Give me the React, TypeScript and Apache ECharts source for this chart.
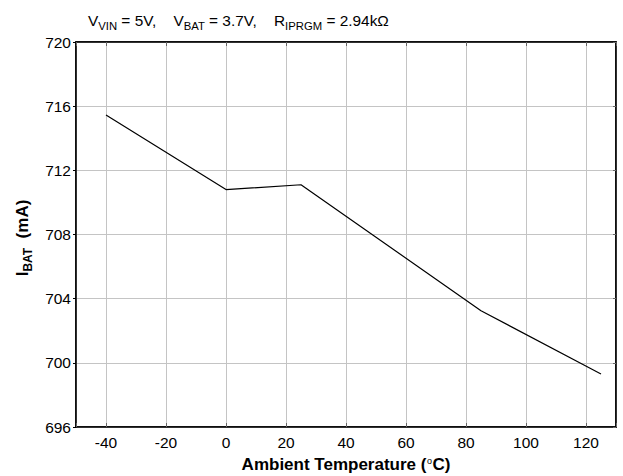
import React, { useEffect, useRef } from 'react';
import * as echarts from 'echarts';

// Data
const temperatureC = [-40, 0, 25, 85, 125];
const chargeCurrentMA = [715.45, 710.8, 711.1, 703.25, 699.3];
const xRange = [-50, 130];
const xLabelStep = 20;
const yRange = [696, 720];
const yStep = 4;

// Text pieces (main text and sub/superscripts)
const titleParts = [
  { t: 'V', sub: false },
  { t: 'VIN', sub: true },
  { t: ' = 5V,    V', sub: false },
  { t: 'BAT', sub: true },
  { t: ' = 3.7V,    R', sub: false },
  { t: 'IPRGM', sub: true },
  { t: ' = 2.94kΩ', sub: false },
];
const xNameParts = [
  { t: 'Ambient Temperature (', sup: false },
  { t: 'o', sup: true },
  { t: 'C)', sup: false },
];
const yNameParts = [
  { t: 'I', sub: false },
  { t: 'BAT', sub: true },
  { t: '  (mA)', sub: false },
];

const FAMILY = '"Liberation Sans", Arial, sans-serif';
const CENTRAL = 0.3465; // central-baseline offset (em) for Liberation Sans

export default function App() {
  const ref = useRef<HTMLDivElement>(null);

  useEffect(() => {
    document.body.style.margin = '0';
    const chart = echarts.init(ref.current!, null, { renderer: 'svg' });

    const ctx = document.createElement('canvas').getContext('2d')!;
    const measure = (text: string, size: number, weight: string) => {
      ctx.font = `${weight} ${size}px ${FAMILY}`;
      return ctx.measureText(text).width;
    };
    const piece = (text: string, x: number, baseline: number, size: number, weight: string) => ({
      type: 'text',
      x,
      y: baseline - CENTRAL * size,
      silent: true,
      style: {
        text,
        fontSize: size,
        fontFamily: FAMILY,
        fontWeight: weight,
        fill: '#000',
        align: 'left',
        verticalAlign: 'middle',
      },
    });

    // Title
    const titleEls: any[] = [];
    let cx = 88;
    titleParts.forEach((p) => {
      const size = p.sub ? 11.3 : 15.4;
      titleEls.push(piece(p.t, cx, p.sub ? 30 : 26, size, 'normal'));
      cx += measure(p.t, size, 'normal');
    });

    // X axis name (centered on plot)
    const xSizes = xNameParts.map((p) => (p.sup ? 9 : 17));
    const xWeights = xNameParts.map((p) => (p.sup ? 'normal' : 'bold'));
    const xWidths = xNameParts.map((p, i) => measure(p.t, xSizes[i], xWeights[i]) + (p.sup ? 1 : 0));
    const xTotal = xWidths.reduce((a, b) => a + b, 0);
    const xNameEls: any[] = [];
    let nx = 346 - xTotal / 2;
    xNameParts.forEach((p, i) => {
      xNameEls.push(piece(p.t, nx + (p.sup ? 0.5 : 0), p.sup ? 464 : 470.5, xSizes[i], xWeights[i]));
      nx += xWidths[i];
    });

    // Y axis name (rotated group)
    const ySizes = yNameParts.map((p) => (p.sub ? 12 : 17));
    const yWidths = yNameParts.map((p, i) => measure(p.t, ySizes[i], 'bold'));
    const yTotal = yWidths.reduce((a, b) => a + b, 0);
    const yNameChildren: any[] = [];
    let ny = -yTotal / 2;
    yNameParts.forEach((p, i) => {
      yNameChildren.push(piece(p.t, ny, p.sub ? 4 : 0, ySizes[i], 'bold'));
      ny += yWidths[i];
    });

    const gridLine = { show: true, lineStyle: { color: '#c4c4c4', width: 1 } };
    const frameLine = { show: true, onZero: false, lineStyle: { color: '#000', width: 1.5 } };
    const tickFont = { fontSize: 15.5, color: '#000', fontFamily: FAMILY };
    const xCommon: any = { type: 'value', min: xRange[0], max: xRange[1], splitNumber: 9 };
    const yCommon: any = { type: 'value', min: yRange[0], max: yRange[1], interval: yStep };

    const option: any = {
      animation: false,
      backgroundColor: '#fff',
      textStyle: { fontFamily: FAMILY },
      graphic: [
        ...titleEls,
        ...xNameEls,
        { type: 'group', x: 28, y: 238, rotation: Math.PI / 2, silent: true, children: yNameChildren },
      ],
      grid: {
        left: 76,
        right: 7,
        top: 42,
        bottom: 49,
        show: true,
        borderColor: '#000',
        borderWidth: 1.5,
        containLabel: false,
      },
      xAxis: [
        {
          ...xCommon,
          position: 'bottom',
          axisLine: frameLine,
          axisTick: { show: true, inside: true, length: 4, lineStyle: { color: '#666' } },
          splitLine: gridLine,
          axisLabel: {
            ...tickFont,
            margin: 7,
            formatter: (v: number) => (v % xLabelStep === 0 ? String(v) : ''),
          },
        },
        {
          ...xCommon,
          position: 'top',
          axisLine: frameLine,
          axisTick: { show: true, inside: true, length: 4, lineStyle: { color: '#666' } },
          splitLine: { show: false },
          axisLabel: { show: false },
        },
      ],
      yAxis: [
        {
          ...yCommon,
          position: 'left',
          axisLine: frameLine,
          axisTick: { show: true, inside: false, length: 3, lineStyle: { color: '#000' } },
          splitLine: gridLine,
          axisLabel: { ...tickFont, margin: 5 },
        },
        {
          ...yCommon,
          position: 'right',
          axisLine: frameLine,
          axisTick: { show: true, inside: true, length: 3, lineStyle: { color: '#666' } },
          splitLine: { show: false },
          axisLabel: { show: false },
        },
      ],
      series: [
        {
          type: 'line',
          xAxisIndex: 0,
          yAxisIndex: 0,
          data: temperatureC.map((t, i) => [t, chargeCurrentMA[i]]),
          symbol: 'none',
          lineStyle: { color: '#000', width: 1.2 },
          z: 5,
        },
      ],
    };

    chart.setOption(option);
    return () => chart.dispose();
  }, []);

  return <div ref={ref} style={{ width: 623, height: 476 }} />;
}
